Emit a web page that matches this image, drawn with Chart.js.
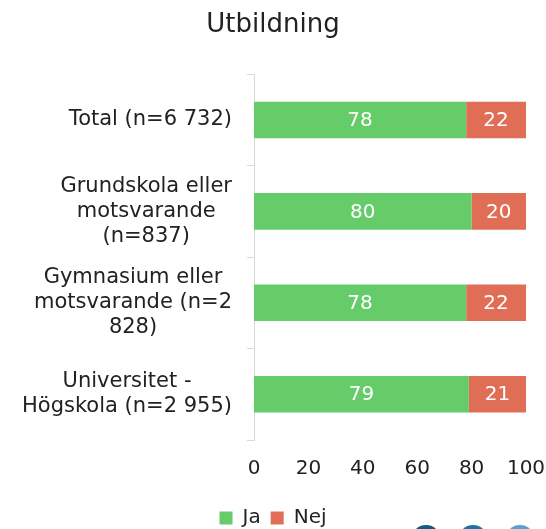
<!DOCTYPE html>
<html>
<head>
<meta charset="utf-8">
<script src="https://cdn.jsdelivr.net/npm/chart.js@4.4.1/dist/chart.umd.min.js"></script>
<style>
  html, body { margin: 0; padding: 0; background: #fff; overflow: hidden; }
  #wrap { position: relative; width: 546px; height: 529px; }
  .dot { position: absolute; width: 30px; height: 30px; border-radius: 50%; top: 525px; }
</style>
</head>
<body>
<div id="wrap">
  <canvas id="chart" width="546" height="529"></canvas>
  <div class="dot" style="left:411px;background:#155a80"></div>
  <div class="dot" style="left:458px;background:#2271a3"></div>
  <div class="dot" style="left:505px;background:#5b9fd0"></div>
</div>
<script>
const FONT = 'DejaVu Sans';

const categories = [
    ['Total (n=6 732)'],
    ['Grundskola eller', 'motsvarande', '(n=837)'],
    ['Gymnasium eller', 'motsvarande (n=2', '828)'],
    ['Universitet -', 'Högskola (n=2 955)']
];
const jaValues = [78, 80, 78, 79];
const nejValues = [22, 20, 22, 21];
const xTicks = [0, 20, 40, 60, 80, 100];

const GREEN = '#66cc6a';
const RED = '#e06e57';

// value labels in the middle of each segment
const barLabels = {
    id: 'barLabels',
    afterDatasetsDraw(chart) {
        const ctx = chart.ctx;
        ctx.save();
        ctx.fillStyle = '#fff';
        ctx.font = `20px "${FONT}"`;
        ctx.textAlign = 'center';
        ctx.textBaseline = 'middle';
        chart.data.datasets.forEach((ds, di) => {
            chart.getDatasetMeta(di).data.forEach((el, i) => {
                ctx.fillText(ds.data[i], (el.x + el.base) / 2, el.y + 1);
            });
        });
        ctx.restore();
    }
};

// category labels, each block centred on its own widest line
const catLabels = {
    id: 'catLabels',
    afterDraw(chart) {
        const ctx = chart.ctx;
        const scale = chart.scales.y;
        const lineH = 25;
        ctx.save();
        ctx.fillStyle = '#222';
        ctx.font = `21px "${FONT}"`;
        ctx.textAlign = 'center';
        ctx.textBaseline = 'middle';
        categories.forEach((lines, i) => {
            const y = scale.getPixelForTick(i);
            const w = Math.max(...lines.map(l => ctx.measureText(l).width));
            const cx = scale.right - 22 - w / 2;
            const y0 = y - (lines.length - 1) * lineH / 2;
            lines.forEach((l, j) => ctx.fillText(l, cx, y0 + j * lineH));
        });
        ctx.restore();
    }
};

new Chart(document.getElementById('chart'), {
    type: 'bar',
    data: {
        labels: categories,
        datasets: [
            { label: 'Ja', data: jaValues, backgroundColor: GREEN, barPercentage: 0.4, categoryPercentage: 1 },
            { label: 'Nej', data: nejValues, backgroundColor: RED, barPercentage: 0.4, categoryPercentage: 1 }
        ]
    },
    options: {
        indexAxis: 'y',
        responsive: false,
        animation: false,
        layout: { padding: { left: 0, right: 0, top: 0, bottom: -9 } },
        scales: {
            x: {
                stacked: true,
                min: 0,
                max: 100,
                afterBuildTicks: (s) => { s.ticks = xTicks.map(v => ({ value: v })); },
                afterFit: (s) => { s.paddingRight = 20; s.paddingLeft = 0; },
                grid: { display: false, drawTicks: false },
                border: { display: false },
                ticks: { color: '#222', font: { family: FONT, size: 20 }, padding: 17 }
            },
            y: {
                stacked: true,
                afterFit: (s) => { s.width = 254; },
                grid: { drawOnChartArea: false, color: '#d9d9d9', tickLength: 7 },
                border: { display: true, color: '#d9d9d9' },
                ticks: { color: 'rgba(0,0,0,0)', font: { family: FONT, size: 19 } }
            }
        },
        plugins: {
            title: {
                display: true,
                text: 'Utbildning',
                color: '#222',
                font: { family: FONT, size: 26, weight: 'normal' },
                padding: { top: 10, bottom: 33 }
            },
            legend: {
                position: 'bottom',
                labels: { color: '#222', font: { family: FONT, size: 20 }, boxWidth: 13, boxHeight: 13, padding: 10 }
            },
            tooltip: { enabled: false }
        }
    },
    plugins: [barLabels, catLabels]
});
</script>
</body>
</html>
